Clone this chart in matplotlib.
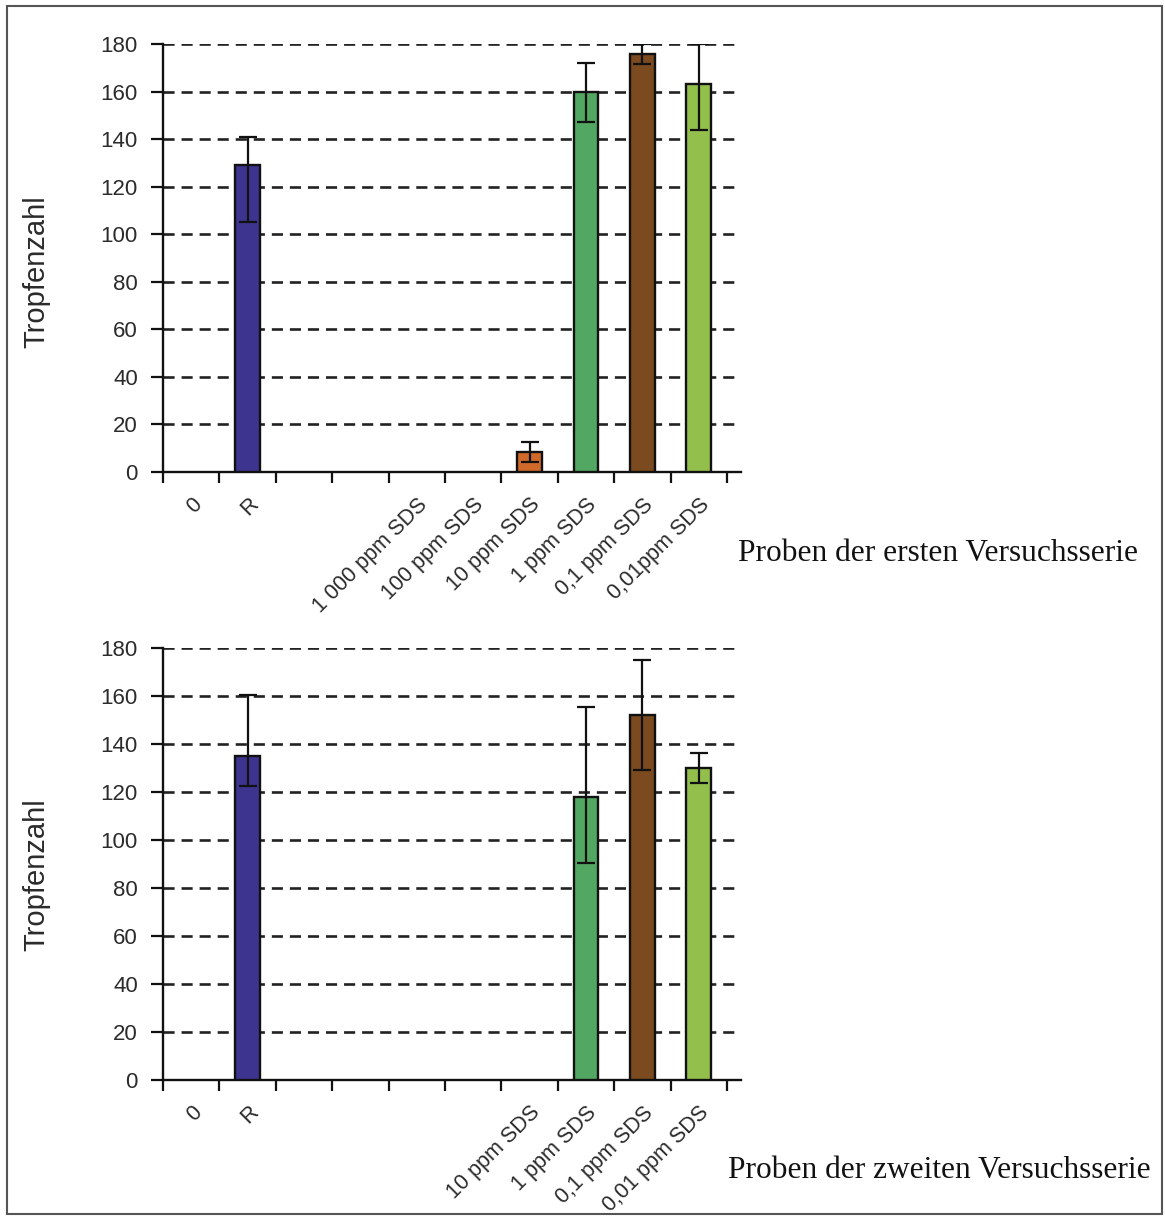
import numpy as np
import matplotlib.pyplot as plt
from matplotlib.patches import Rectangle

plt.rcParams['lines.scale_dashes'] = False

# Daten, erste Versuchsserie
labels_1 = ["0", "R", "", "", "1 000 ppm SDS", "100 ppm SDS", "10 ppm SDS",
            "1 ppm SDS", "0,1 ppm SDS", "0,01ppm SDS"]
values_1 = [np.nan, 129, np.nan, np.nan, np.nan, np.nan, 8.5, 160, 176, 163]
err_low_1 = [0, 24, 0, 0, 0, 0, 4.2, 13, 4.5, 19]
err_high_1 = [0, 12, 0, 0, 0, 0, 4.2, 12, 4, 17]

# Daten, zweite Versuchsserie
labels_2 = ["0", "R", "", "", "", "", "10 ppm SDS", "1 ppm SDS",
            "0,1 ppm SDS", "0,01 ppm SDS"]
values_2 = [np.nan, 135, np.nan, np.nan, np.nan, np.nan, np.nan, 118, 152, 130]
err_low_2 = [0, 12.5, 0, 0, 0, 0, 0, 27.5, 23, 6.3]
err_high_2 = [0, 25.5, 0, 0, 0, 0, 0, 37.5, 23, 6.3]

bar_colors = ["#3d348f", "#3d348f", "#888888", "#888888", "#888888", "#888888",
              "#d06a2b", "#52a862", "#7b4a1f", "#93c04c"]

y_ticks = list(range(0, 181, 20))
text_col = "#2b2b2b"


def draw_series(ax, labels, values, err_low, err_high):
    x = np.arange(len(labels))
    vals = np.array(values, dtype=float)
    mask = ~np.isnan(vals)
    ax.bar(x[mask], vals[mask], width=0.44,
           color=[bar_colors[i] for i in x[mask]],
           edgecolor="#111111", linewidth=1.7, zorder=3)
    yerr = np.array([np.array(err_low)[mask], np.array(err_high)[mask]])
    ax.errorbar(x[mask], vals[mask], yerr=yerr, fmt="none", ecolor="#111111",
                elinewidth=1.6, capsize=6.5, capthick=1.6, zorder=4)

    ax.set_xlim(-0.5, 9.75)
    ax.set_ylim(0, 180)
    ax.set_yticks(y_ticks)
    ax.set_yticklabels([str(t) for t in y_ticks], fontsize=16,
                       family="Liberation Sans", color=text_col)
    ax.yaxis.grid(True, linestyle=(0, (8, 5)), color="#222222",
                  linewidth=1.9, zorder=0)
    ax.set_axisbelow(True)

    # Teilstriche an den Kategoriegrenzen, Beschriftung in der Mitte
    ax.set_xticks(np.arange(-0.5, 10, 1.0))
    ax.set_xticklabels([])
    ax.set_xticks(x, minor=True)
    ax.set_xticklabels(labels, minor=True, rotation=45, ha="right", va="top",
                       rotation_mode="anchor", fontsize=15.5,
                       family="Liberation Sans", color=text_col)
    ax.tick_params(axis="x", which="minor", length=0, pad=16)
    ax.tick_params(axis="x", which="major", direction="out", length=8,
                   width=1.6, color="#111111")
    ax.tick_params(axis="y", direction="out", length=9, width=1.6,
                   color="#111111", pad=9)

    for side in ["top", "right"]:
        ax.spines[side].set_visible(False)
    for side in ["left", "bottom"]:
        ax.spines[side].set_linewidth(1.7)
        ax.spines[side].set_color("#111111")


fig = plt.figure(figsize=(11.65, 12.18), dpi=100)
W, H = 1165.0, 1218.0

ax1 = fig.add_axes([163 / W, 1 - 472 / H, (741 - 163) / W, (472 - 44) / H])
ax2 = fig.add_axes([163 / W, 1 - 1080 / H, (741 - 163) / W, (1080 - 648) / H])

draw_series(ax1, labels_1, values_1, err_low_1, err_high_1)
draw_series(ax2, labels_2, values_2, err_low_2, err_high_2)

fig.text(36 / W, 1 - 272 / H, "Tropfenzahl", rotation=90, ha="center",
         va="center", fontsize=21, family="Liberation Sans", color=text_col)
fig.text(36 / W, 1 - 875 / H, "Tropfenzahl", rotation=90, ha="center",
         va="center", fontsize=21, family="Liberation Sans", color=text_col)

fig.text(738 / W, 1 - 553 / H, "Proben der ersten Versuchsserie",
         ha="left", va="center", fontsize=22.6, family="Liberation Serif",
         color="#111111")
fig.text(728 / W, 1 - 1170 / H, "Proben der zweiten Versuchsserie",
         ha="left", va="center", fontsize=22.6, family="Liberation Serif",
         color="#111111")

# Rahmen um die ganze Abbildung
fig.patches.append(Rectangle((7 / W, 1 - 1214 / H), (1162 - 7) / W,
                             (1214 - 6) / H, transform=fig.transFigure,
                             fill=False, edgecolor="#555555", linewidth=1.5))

fig.savefig("out.png", dpi=100)
